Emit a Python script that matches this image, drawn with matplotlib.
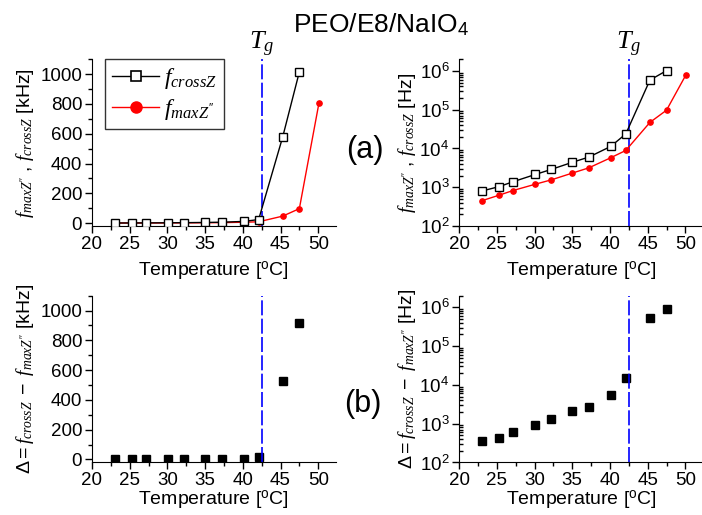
import matplotlib
matplotlib.use("Agg")
import matplotlib.pyplot as plt
from matplotlib.lines import Line2D
from matplotlib.ticker import MultipleLocator, LogLocator, NullFormatter
import numpy as np

plt.rcParams["font.family"] = ["Liberation Sans", "DejaVu Sans"]
plt.rcParams["mathtext.fontset"] = "custom"
plt.rcParams["mathtext.rm"] = "Liberation Sans"
plt.rcParams["mathtext.it"] = "Liberation Serif:italic"
plt.rcParams["mathtext.bf"] = "Liberation Sans:bold"
plt.rcParams["mathtext.fallback"] = "stix"

# temperatures [C]
temp_cross = [23.0, 25.3, 27.1, 30.1, 32.2, 35.0, 37.2, 40.1, 42.1, 45.3, 47.5]
temp_max = [23.0, 25.3, 27.1, 30.1, 32.2, 35.0, 37.2, 40.1, 42.1, 45.3, 47.5, 50.1]

# characteristic frequencies [Hz]
f_cross = [800, 1040, 1380, 2140, 2880, 4400, 6000, 11300, 23700, 580000, 1015000]
f_max = [450, 625, 820, 1200, 1550, 2320, 3170, 5770, 8900, 47000, 97000, 806000]

# difference f_cross - f_max [Hz]
delta = [350, 420, 620, 950, 1320, 2140, 2760, 5560, 15000, 530000, 915000]

T_G = 42.5
XLIM = (20, 52.3)

LBL_F = r"$f_{maxZ''}$ , $f_{crossZ}$ [%s]"
LBL_D = r"$\Delta = f_{crossZ}\ -\ f_{maxZ''}$ [%s]"
XLBL = r"Temperature [$^{\mathrm{o}}$C]"


def style_axis(ax, log=False, xpad=5):
    ax.spines["top"].set_visible(False)
    ax.spines["right"].set_visible(False)
    ax.set_xlim(*XLIM)
    ax.xaxis.set_major_locator(MultipleLocator(5))
    ax.xaxis.set_minor_locator(MultipleLocator(2.5))
    ax.tick_params(axis="both", which="major", direction="out", length=5, width=1, labelsize=13.5, pad=2)
    ax.tick_params(axis="both", which="minor", direction="out", length=3, width=1)
    if log:
        ax.set_yscale("log")
        ax.set_ylim(1e2, 2e6)
        ax.yaxis.set_major_locator(LogLocator(base=10, numticks=10))
        ax.yaxis.set_minor_locator(LogLocator(base=10, subs=np.arange(2, 10), numticks=10))
        ax.yaxis.set_minor_formatter(NullFormatter())
        ax.tick_params(axis="y", which="minor", direction="in", length=3)
    else:
        ax.set_ylim(-20, 1100)
        ax.yaxis.set_major_locator(MultipleLocator(200))
        ax.yaxis.set_minor_locator(MultipleLocator(100))
    ax.set_xlabel(XLBL, fontsize=14, labelpad=xpad)
    ax.axvline(T_G, color="#0000FF", linewidth=1.2, dashes=(9, 2))


fig = plt.figure(figsize=(7.02, 5.15), dpi=100)
w, h = 0.347, 0.324
ax1 = fig.add_axes([0.131, 0.561, w, h])
ax2 = fig.add_axes([0.654, 0.561, w, h])
ax3 = fig.add_axes([0.131, 0.102, w, h])
ax4 = fig.add_axes([0.654, 0.102, w, h])

# (a) linear scale, kHz
fc_khz = np.array(f_cross) / 1000
fm_khz = np.array(f_max) / 1000
ax1.plot(temp_cross, fc_khz, color="black", lw=1, marker="s", ms=5.5, mfc="white", mec="black", mew=1, zorder=4)
ax1.plot(temp_max, fm_khz, color="red", lw=1, marker="o", ms=3.8, mfc="red", mec="red", zorder=3)
style_axis(ax1)
ax1.set_ylabel(LBL_F % "kHz", fontsize=14, labelpad=3)

handles = [
    Line2D([], [], color="black", lw=1, marker="s", ms=6.5, mfc="white", mec="black", mew=1.2),
    Line2D([], [], color="red", lw=1, marker="o", ms=8, mfc="red", mec="red"),
]
leg = ax1.legend(handles, [r"$f_{crossZ}$", r"$f_{maxZ''}$"], loc="upper left",
                 bbox_to_anchor=(0.053, 1.0), borderaxespad=0, fontsize=17, frameon=True,
                 fancybox=False, handlelength=2.0, handletextpad=0.2, borderpad=0.3,
                 labelspacing=0.25)
leg.get_frame().set_edgecolor("black")
leg.get_frame().set_linewidth(1)

# (a) log scale, Hz
ax2.plot(temp_cross, f_cross, color="black", lw=1, marker="s", ms=5.5, mfc="white", mec="black", mew=1, zorder=4)
ax2.plot(temp_max, f_max, color="red", lw=1, marker="o", ms=3.8, mfc="red", mec="red", zorder=3)
style_axis(ax2, log=True)
ax2.set_ylabel(LBL_F % "Hz", fontsize=14, labelpad=1)

# (b) difference, linear kHz
ax3.plot(temp_cross, np.array(delta) / 1000, ls="none", marker="s", ms=5.5, color="black")
style_axis(ax3, xpad=0)
ax3.set_ylabel(LBL_D % "kHz", fontsize=14, labelpad=3)

# (b) difference, log Hz
ax4.plot(temp_cross, delta, ls="none", marker="s", ms=5.5, color="black")
style_axis(ax4, log=True, xpad=0)
ax4.set_ylabel(LBL_D % "Hz", fontsize=14, labelpad=1)

for ax in (ax1, ax2):
    ax.text(T_G, 1.0, r"$T_g$", transform=ax.get_xaxis_transform(), ha="center", va="bottom",
            fontsize=19)

fig.text(0.543, 0.952, r"PEO/E8/NaIO$_4$", ha="center", va="center", fontsize=19)
fig.text(0.52, 0.709, "(a)", ha="center", va="center", fontsize=22)
fig.text(0.517, 0.215, "(b)", ha="center", va="center", fontsize=22)

fig.savefig("out.png", dpi=100)
